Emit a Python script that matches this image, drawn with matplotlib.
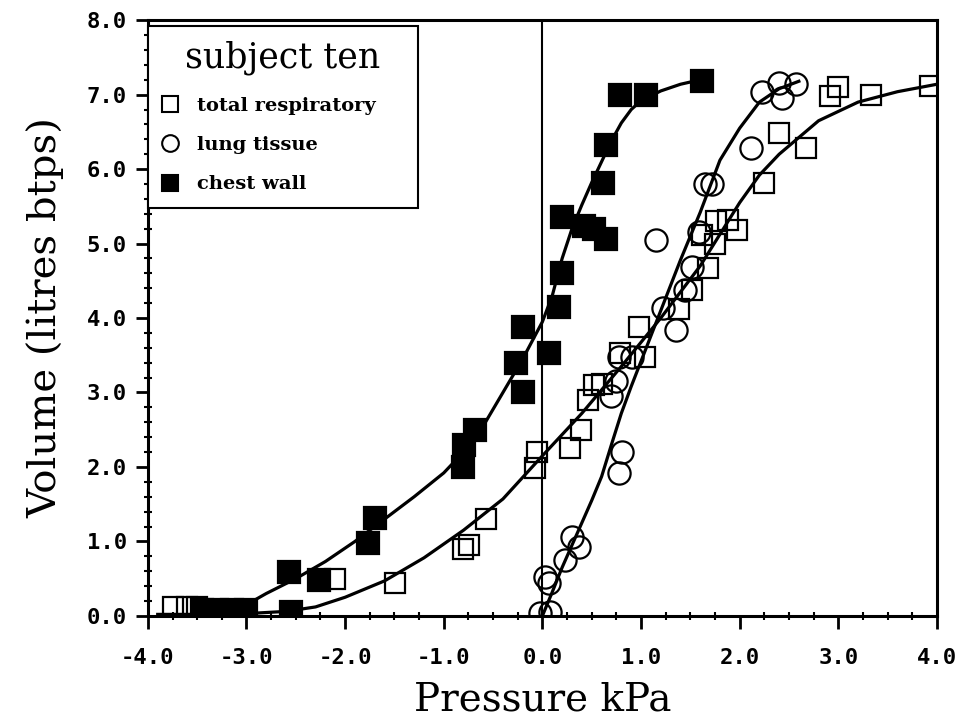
import numpy as np
import matplotlib
matplotlib.use("Agg")
import matplotlib.pyplot as plt
from matplotlib.ticker import MultipleLocator, FormatStrFormatter
from matplotlib.lines import Line2D

# --- measured points (pressure kPa, volume litres) ---
# total respiratory system (open squares)
tr_p = [-3.75, -3.6, -3.5, -2.1, -1.49, -0.8, -0.74, -0.57, -0.07, -0.05, 0.28, 0.39,
        0.46, 0.52, 0.6, 0.79, 0.98, 1.04, 1.38, 1.52, 1.68, 1.62, 1.75, 1.76, 1.88,
        1.97, 2.25, 2.4, 2.67, 2.92, 3.0, 3.33, 3.93]
tr_v = [0.12, 0.12, 0.12, 0.5, 0.44, 0.9, 0.95, 1.3, 1.98, 2.2, 2.25, 2.5,
        2.9, 3.1, 3.12, 3.53, 3.88, 3.48, 4.12, 4.38, 4.67, 5.12, 5.0, 5.3, 5.32,
        5.18, 5.81, 6.49, 6.28, 6.98, 7.1, 6.99, 7.11]

# lung tissue (open circles)
lt_p = [-0.02, 0.08, 0.03, 0.07, 0.23, 0.3, 0.37, 0.78, 0.81, 0.7, 0.75, 0.78, 0.91,
        1.15, 1.22, 1.35, 1.45, 1.52, 1.59, 1.65, 1.72, 2.11, 2.23, 2.4, 2.43, 2.57]
lt_v = [0.04, 0.05, 0.52, 0.44, 0.75, 1.06, 0.93, 1.92, 2.2, 2.95, 3.15, 3.48, 3.48,
        5.05, 4.14, 3.84, 4.38, 4.68, 5.15, 5.8, 5.8, 6.29, 7.03, 7.16, 6.96, 7.14]

# chest wall (filled squares)
cw_p = [-3.45, -3.3, -3.15, -3.0, -2.55, -2.57, -2.26, -1.77, -1.7, -0.81, -0.79,
        -0.68, -0.27, -0.2, -0.2, 0.07, 0.17, 0.2, 0.2, 0.42, 0.52, 0.64, 0.61, 0.64,
        0.79, 1.05, 1.62]
cw_v = [0.08, 0.08, 0.08, 0.08, 0.05, 0.59, 0.48, 0.98, 1.32, 2.0, 2.3,
        2.5, 3.4, 3.0, 3.88, 3.53, 4.15, 4.6, 5.36, 5.23, 5.2, 5.06, 5.82, 6.33,
        7.0, 7.0, 7.18]

# fitted curves
tr_fit_p = [-3.9, -3.4, -3.0, -2.6, -2.3, -2.0, -1.6, -1.2, -0.8, -0.4, 0.0, 0.4,
            0.8, 1.2, 1.6, 2.0, 2.2, 2.4, 2.8, 3.2, 3.6, 4.0]
tr_fit_v = [0.02, 0.02, 0.03, 0.06, 0.12, 0.25, 0.47, 0.78, 1.15, 1.57, 2.15, 2.72,
            3.35, 4.0, 4.7, 5.55, 5.92, 6.2, 6.65, 6.9, 7.04, 7.14]

lt_fit_p = [0.0, 0.1, 0.2, 0.3, 0.4, 0.5, 0.6, 0.7, 0.8, 0.9, 1.0, 1.2, 1.4, 1.6,
            1.8, 2.0, 2.2, 2.4, 2.6]
lt_fit_v = [0.0, 0.32, 0.65, 0.95, 1.25, 1.55, 1.87, 2.3, 2.72, 3.08, 3.42, 4.1,
            4.78, 5.42, 6.12, 6.55, 6.9, 7.08, 7.18]

cw_fit_p = [-3.4, -3.2, -3.0, -2.8, -2.5, -2.2, -1.9, -1.6, -1.3, -1.0, -0.8, -0.6,
            -0.4, -0.2, 0.0, 0.1, 0.2, 0.3, 0.4, 0.5, 0.6, 0.7, 0.8, 0.9, 1.0, 1.2,
            1.4, 1.6]
cw_fit_v = [0.03, 0.05, 0.15, 0.3, 0.5, 0.73, 1.0, 1.3, 1.6, 1.92, 2.2, 2.55,
            3.0, 3.45, 3.95, 4.3, 4.8, 5.2, 5.52, 5.82, 6.1, 6.38, 6.62, 6.8, 6.92,
            7.05, 7.14, 7.2]

serif = "DejaVu Serif"

fig = plt.figure(figsize=(9.6, 7.22), dpi=100)
ax = fig.add_axes([0.154, 0.147, 0.822, 0.825])

# curves
ax.plot(tr_fit_p, tr_fit_v, color="black", lw=2.3, zorder=2)
ax.plot(lt_fit_p, lt_fit_v, color="black", lw=2.3, zorder=2)
ax.plot(cw_fit_p, cw_fit_v, color="black", lw=2.3, zorder=2)

# zero pressure line
ax.axvline(0, color="black", lw=1.5, zorder=1)

# points
ax.plot(tr_p, tr_v, "s", ms=15, mfc="none", mec="black", mew=1.6, zorder=3)
ax.plot(lt_p, lt_v, "o", ms=16, mfc="none", mec="black", mew=1.6, zorder=3)
ax.plot(cw_p, cw_v, "s", ms=15.5, mfc="black", mec="black", mew=1.6, zorder=4)

ax.set_xlim(-4.0, 4.0)
ax.set_ylim(0.0, 8.0)
ax.xaxis.set_major_locator(MultipleLocator(1.0))
ax.xaxis.set_minor_locator(MultipleLocator(0.25))
ax.yaxis.set_major_locator(MultipleLocator(1.0))
ax.yaxis.set_minor_locator(MultipleLocator(0.2))
ax.xaxis.set_major_formatter(FormatStrFormatter("%.1f"))
ax.yaxis.set_major_formatter(FormatStrFormatter("%.1f"))
ax.tick_params(which="major", direction="out", length=9, width=2)
ax.tick_params(which="minor", direction="inout", length=6, width=1.5)
ax.tick_params(axis="x", which="major", pad=14)
ax.tick_params(axis="y", which="major", pad=6)
for lab in ax.get_xticklabels() + ax.get_yticklabels():
    lab.set_fontfamily("DejaVu Sans Mono")
    lab.set_fontweight("bold")
    lab.set_fontsize(16)

for sp in ax.spines.values():
    sp.set_linewidth(2.2)

ax.set_xlabel("Pressure kPa", family=serif, fontsize=28, labelpad=10)
ax.set_ylabel("Volume (litres btps)", family=serif, fontsize=29, labelpad=16)

handles = [
    Line2D([], [], ls="none", marker="s", ms=12, mfc="none", mec="black", mew=1.5),
    Line2D([], [], ls="none", marker="o", ms=12, mfc="none", mec="black", mew=1.5),
    Line2D([], [], ls="none", marker="s", ms=12, mfc="black", mec="black", mew=1.5),
]
leg = ax.legend(handles, ["total respiratory", "lung tissue", "chest wall"],
                title="subject ten", loc="upper left", mode="expand",
                bbox_to_anchor=(0.0, 0.0, 0.342, 0.99), borderaxespad=0.0,
                handlelength=0.8, handletextpad=1.0, labelspacing=1.1,
                borderpad=0.75, fancybox=False, framealpha=1.0,
                edgecolor="black", prop={"family": serif, "weight": "bold", "size": 14})
leg.get_title().set_fontfamily(serif)
leg.get_title().set_fontsize(25)
leg.get_frame().set_linewidth(1.5)
leg.set_zorder(5)

fig.savefig("out.png", dpi=100)
